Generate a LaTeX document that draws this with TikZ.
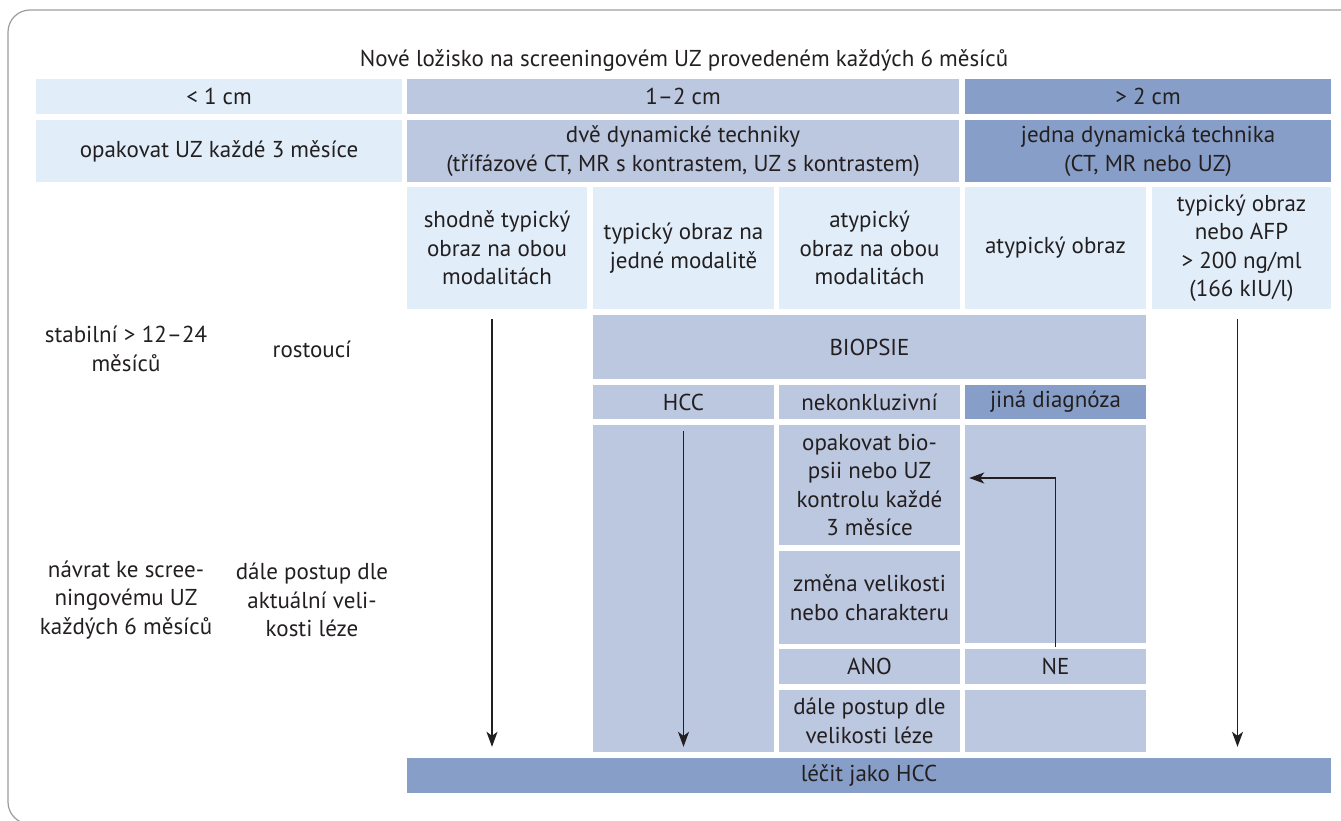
\documentclass[tikz,border=0pt]{standalone}
\usepackage{fontspec}
\setmainfont{PT Sans}
\usepackage{xcolor}
\usetikzlibrary{arrows.meta,calc}

\definecolor{paleblue}{HTML}{E1EEF9}
\definecolor{lavender}{HTML}{BCC7E0}
\definecolor{steelblue}{HTML}{879FC8}
\definecolor{inkgray}{HTML}{231F20}
\definecolor{framegray}{HTML}{9C9C9C}

\tikzset{
  cell/.style={rectangle, inner sep=0pt, align=center, text=inkgray,
    font=\fontsize{23}{28.5}\selectfont},
  palecell/.style={cell, fill=paleblue},
  midcell/.style={cell, fill=lavender},
  darkcell/.style={cell, fill=steelblue},
  freetext/.style={cell},
  arr/.style={-{Stealth[length=15pt,width=11pt,inset=4pt]}, line width=1.4pt, draw=inkgray},
}

\begin{document}
\begin{tikzpicture}[x=1pt, y=-1pt]
\useasboundingbox (0,0) rectangle (1341,820);
% frame
\begin{scope}
\clip (0,0) rectangle (1341,820);
\draw[framegray, line width=1.2pt, rounded corners=22pt] (8,10) rectangle (1390,824);
\end{scope}

\node[freetext] (title) at (684,60) {Nové ložisko na screeningovém UZ provedeném každých 6 měsíců};

% size rows
\node[palecell, minimum width=366, minimum height=35] (lessone) at (219,96.5) {< 1 cm};
\node[midcell, minimum width=552, minimum height=35] (onetwo) at (683,96.5) {1–2 cm};
\node[darkcell, minimum width=366, minimum height=35] (overtwo) at (1148,96.5) {> 2 cm};

\node[palecell, minimum width=366, minimum height=62] (repeatus) at (219,151) {opakovat UZ každé 3 měsíce};
\node[midcell, minimum width=552, minimum height=62] (twodyn) at (683,151) {dvě dynamické techniky\\(třífázové CT, MR s kontrastem, UZ s kontrastem)};
\node[darkcell, minimum width=366, minimum height=62] (onedyn) at (1148,151) {jedna dynamická technika\\(CT, MR nebo UZ)};

% findings
\node[palecell, minimum width=180, minimum height=122] (bothtyp) at (497,248) {shodně typický\\obraz na obou\\modalitách};
\node[palecell, minimum width=181, minimum height=122] (onetyp) at (683.5,248) {typický obraz na\\jedné modalitě};
\node[palecell, minimum width=181, minimum height=122] (bothatyp) at (869.5,248) {atypický\\obraz na obou\\modalitách};
\node[palecell, minimum width=181, minimum height=122] (atyp) at (1055.5,248) {atypický obraz};
\node[palecell, minimum width=179, minimum height=122] (typafp) at (1241.5,248) {typický obraz\\nebo AFP\\> 200 ng/ml\\(166 kIU/l)};

% biopsy
\node[midcell, minimum width=553, minimum height=64] (biopsy) at (869.5,347) {BIOPSIE};
\node[midcell, minimum width=181, minimum height=34] (hcc) at (683.5,402) {HCC};
\node[midcell, minimum width=181, minimum height=34] (inconcl) at (869.5,402) {nekonkluzivní};
\node[darkcell, minimum width=181, minimum height=34] (otherdx) at (1055.5,402) {jiná diagnóza};

\node[midcell, minimum width=181, minimum height=327] (hccbar) at (683.5,588.5) {};
\node[midcell, minimum width=181, minimum height=120] (repbiopsy) at (869.5,485) {opakovat bio-\\psii nebo UZ\\kontrolu každé\\3 měsíce};
\node[midcell, minimum width=181, minimum height=93] (change) at (869.5,597.5) {změna velikosti\\nebo charakteru};
\node[midcell, minimum width=181, minimum height=35] (yes) at (869.5,666.5) {ANO};
\node[midcell, minimum width=181, minimum height=62] (followup) at (869.5,721) {dále postup dle\\velikosti léze};
\node[midcell, minimum width=181, minimum height=218] (otherbar) at (1055.5,534) {};
\node[midcell, minimum width=181, minimum height=35] (no) at (1055.5,666.5) {NE};
\node[midcell, minimum width=181, minimum height=62] (emptybar) at (1055.5,721) {};

\node[darkcell, minimum width=924, minimum height=35] (treat) at (869,775.5) {léčit jako HCC};

% left column
\node[freetext] (stable) at (126,349) {stabilní > 12–24\\měsíců};
\node[freetext] (growing) at (312,349) {rostoucí};
\node[freetext] (backscreen) at (126,600) {návrat ke scree-\\ningovému UZ\\každých 6 měsíců};
\node[freetext] (proceed) at (312,600) {dále postup dle\\aktuální veli-\\kosti léze};

% arrows
\coordinate (a1) at ([shift={(-5pt,-10pt)}]bothtyp.south);
\coordinate (a2) at ([shift={(-4pt,-10pt)}]typafp.south);
\draw[arr] (a1) -- ($(a1 |- treat.north)+(0,-11)$);
\draw[arr] ([yshift=-6pt]hccbar.north) -- ($(hccbar.north |- treat.north)+(0,-11)$);
\draw[arr] (a2) -- ($(a2 |- treat.north)+(0,-11)$);
\draw[arr] ([yshift=2pt]no.north) |- ([shift={(9pt,7pt)}]repbiopsy.east);
\end{tikzpicture}
\end{document}
